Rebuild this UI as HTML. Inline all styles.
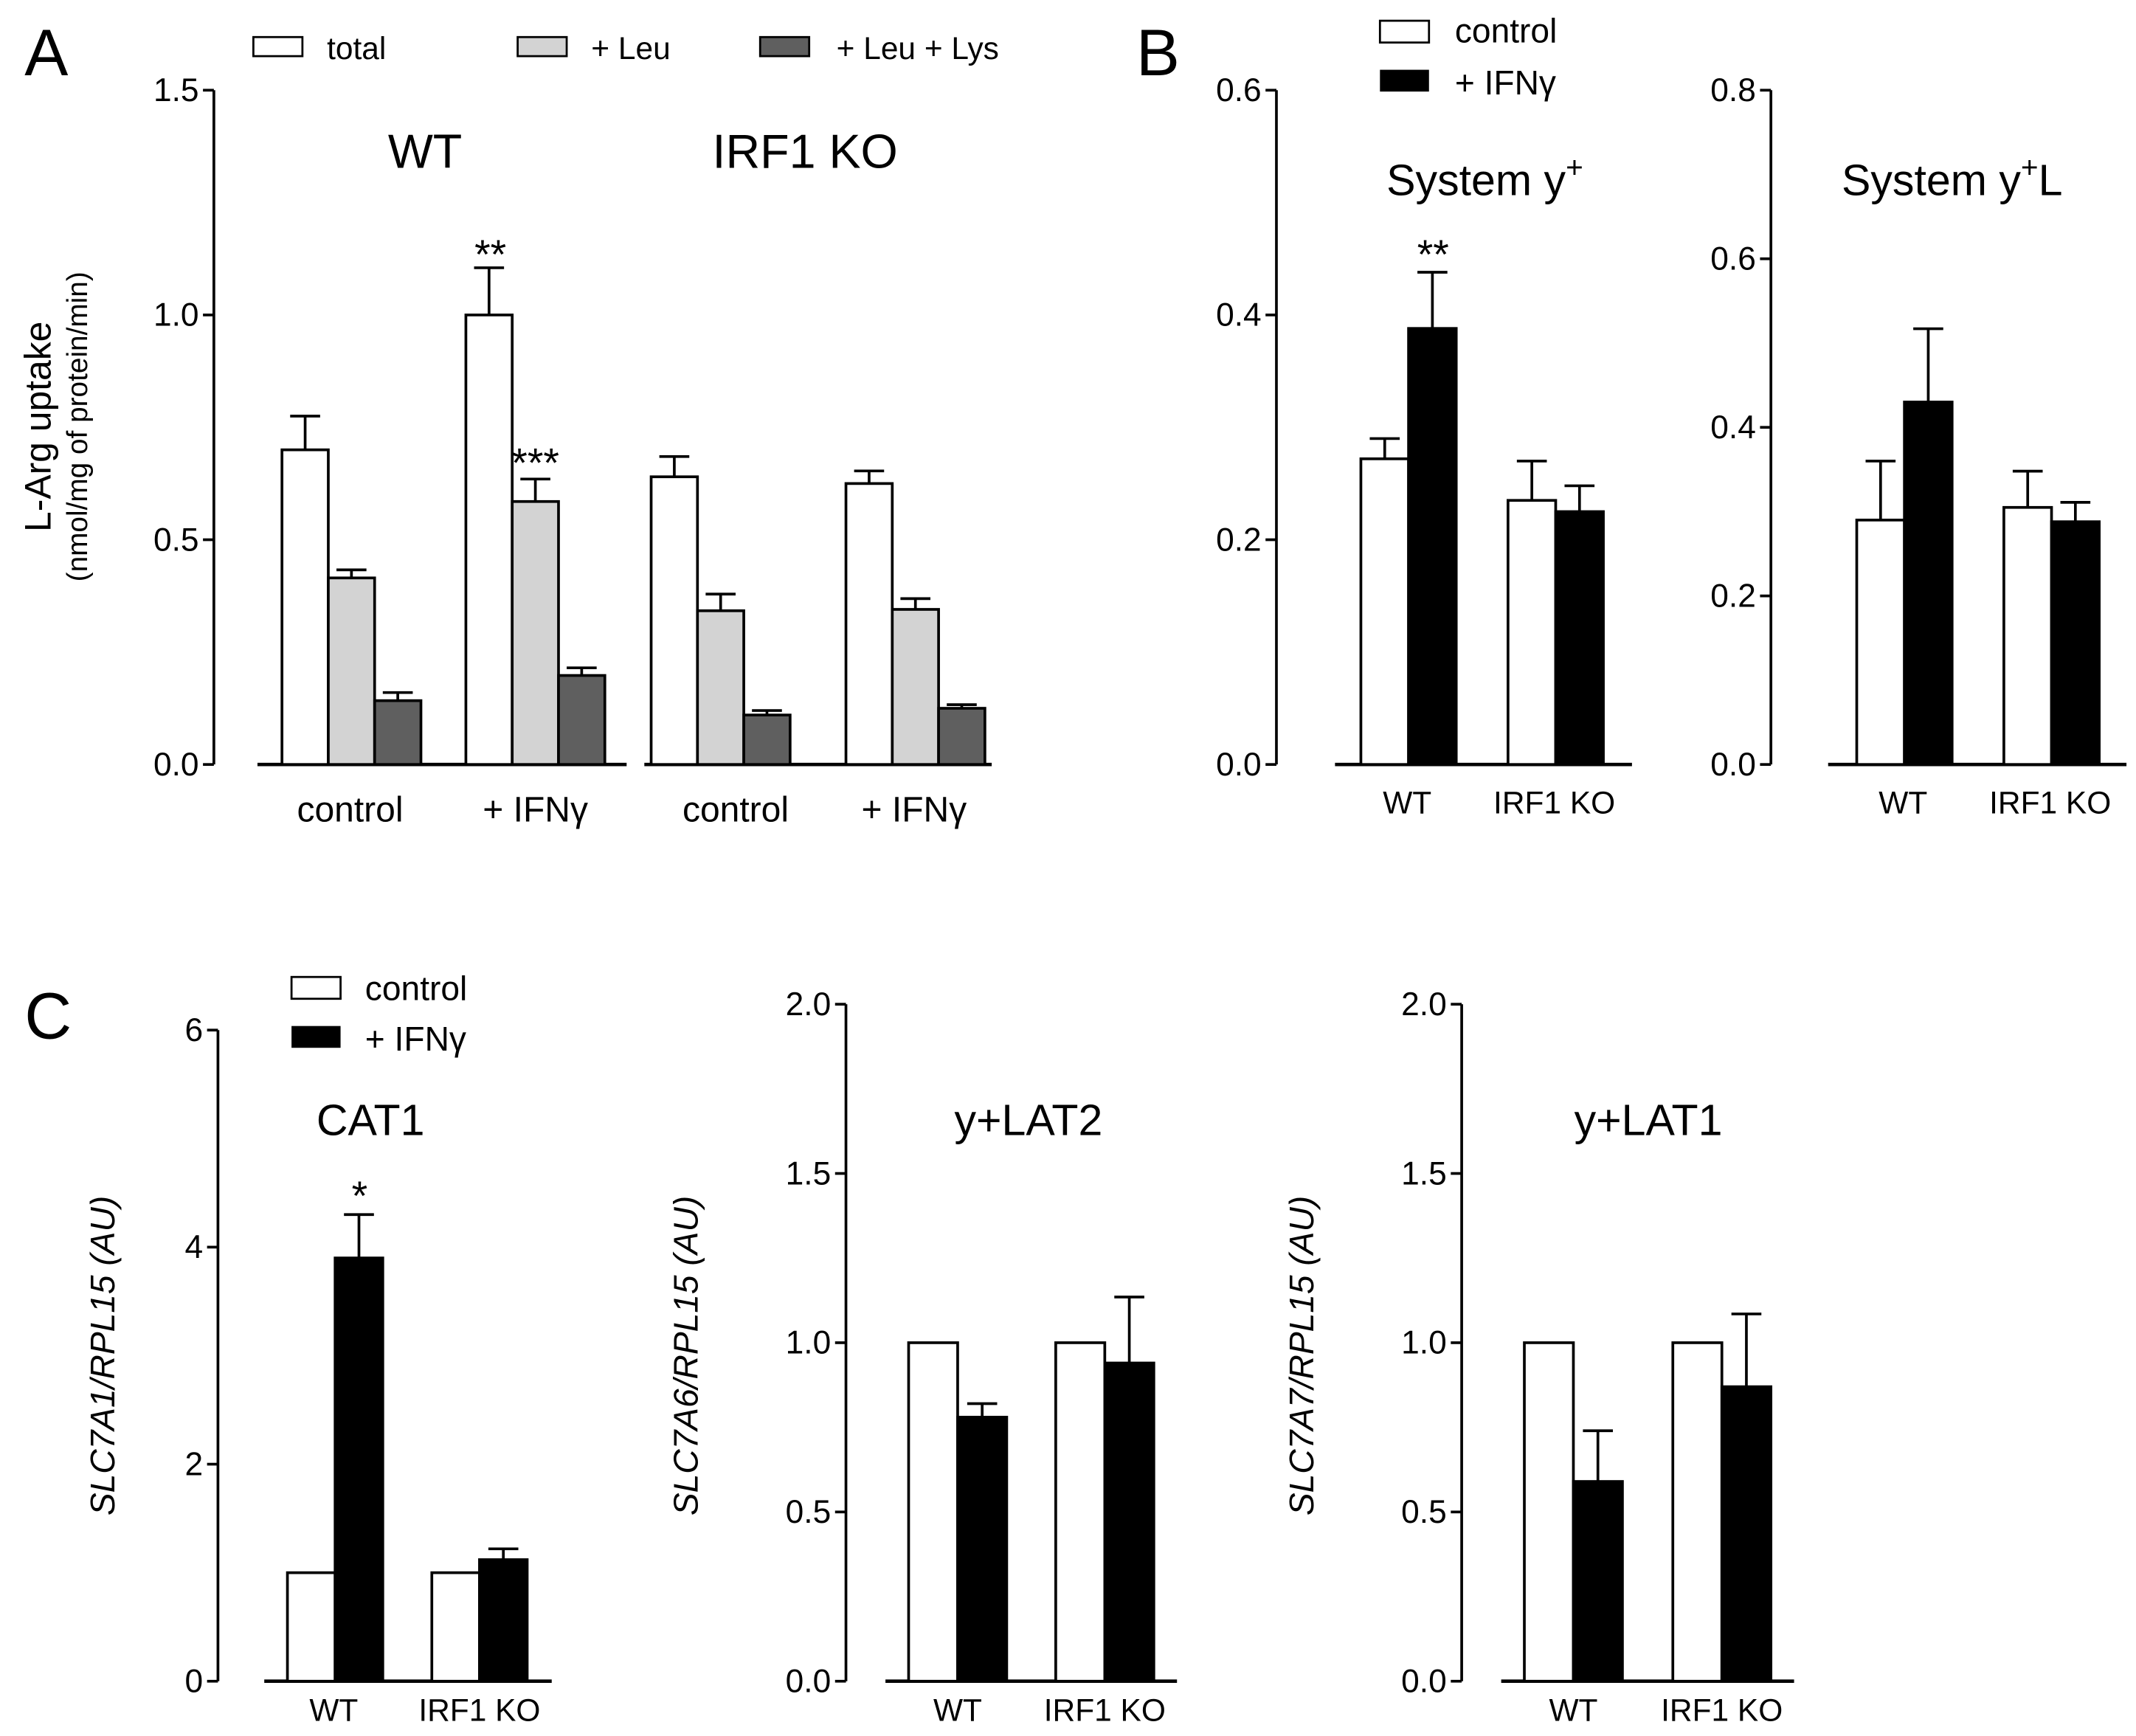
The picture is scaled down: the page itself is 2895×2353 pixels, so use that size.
<!DOCTYPE html>
<html><head><meta charset="utf-8"><style>html,body{margin:0;padding:0;background:#fff}svg{display:block}text{font-family:"Liberation Sans",Arial,sans-serif;fill:#000}</style></head>
<body>
<svg id="fig" width="2895" height="2353" viewBox="0 0 1568 1274" xmlns="http://www.w3.org/2000/svg">
<rect width="1568" height="1274" fill="#fff"/>
<g id="static" stroke-width="0">
<text x="18" y="55" font-size="48">A</text>
<text x="834" y="55" font-size="48">B</text>
<text x="18" y="762" font-size="48">C</text>
<g>
<rect x="186" y="27" width="36" height="14" fill="#fff" stroke="#000" stroke-width="1.5"/>
<text x="240" y="43" font-size="23">total</text>
<rect x="380" y="27" width="36" height="14" fill="#d3d3d3" stroke="#000" stroke-width="1.5"/>
<text x="434" y="43" font-size="23">+ Leu</text>
<rect x="558" y="27" width="36" height="14" fill="#5f5f5f" stroke="#000" stroke-width="1.5"/>
<text x="614" y="43" font-size="23">+ Leu + Lys</text>
</g>
<g>
<rect x="1013" y="15" width="36" height="16" fill="#fff" stroke="#000" stroke-width="1.5"/>
<text x="1068" y="31" font-size="25">control</text>
<rect x="1013" y="51" width="36" height="16" fill="#000"/>
<text x="1068" y="69" font-size="25">+ IFNγ</text>
</g>
<g>
<rect x="214" y="717" width="36" height="16" fill="#fff" stroke="#000" stroke-width="1.5"/>
<text x="268" y="734" font-size="25">control</text>
<rect x="214" y="753" width="36" height="16" fill="#000"/>
<text x="268" y="771" font-size="25">+ IFNγ</text>
</g>
<text x="312" y="123" font-size="35" text-anchor="middle">WT</text>
<text x="591" y="123" font-size="35" text-anchor="middle">IRF1 KO</text>
<text x="1090" y="143" font-size="32" text-anchor="middle">System y<tspan dy="-13" font-size="22">+</tspan></text>
<text x="1433" y="143" font-size="32" text-anchor="middle">System y<tspan dy="-13" font-size="22">+</tspan><tspan dy="13">L</tspan></text>
<text x="272" y="833" font-size="32" text-anchor="middle">CAT1</text>
<text x="755" y="833" font-size="32" text-anchor="middle">y+LAT2</text>
<text x="1210" y="833" font-size="32" text-anchor="middle">y+LAT1</text>
<text transform="translate(37,313) rotate(-90)" font-size="27" text-anchor="middle">L-Arg uptake</text>
<text transform="translate(64,313) rotate(-90)" font-size="21" text-anchor="middle">(nmol/mg of protein/min)</text>
<text transform="translate(84,995) rotate(-90)" font-size="25" font-style="italic" text-anchor="middle">SLC7A1/RPL15 (AU)</text>
<text transform="translate(512,995) rotate(-90)" font-size="25" font-style="italic" text-anchor="middle">SLC7A6/RPL15 (AU)</text>
<text transform="translate(964,995) rotate(-90)" font-size="25" font-style="italic" text-anchor="middle">SLC7A7/RPL15 (AU)</text>
</g>
<g id="charts"></g>
</svg>
<script>
// Panel A data
const aCategories = ["WT control","WT + IFNγ","KO control","KO + IFNγ"];
const aTotal = [0.70, 1.00, 0.64, 0.625];
const aTotalErr = [0.075, 0.105, 0.045, 0.028];
const aLeu = [0.415, 0.585, 0.342, 0.345];
const aLeuErr = [0.018, 0.05, 0.037, 0.024];
const aLeuLys = [0.142, 0.198, 0.11, 0.125];
const aLeuLysErr = [0.018, 0.017, 0.01, 0.008];
const aTicks = ["0.0","0.5","1.0","1.5"];
// Panel B data
const bGroups = ["WT","IRF1 KO"];
const b1Control = [0.272, 0.235];
const b1ControlErr = [0.018, 0.035];
const b1Ifn = [0.388, 0.225];
const b1IfnErr = [0.05, 0.023];
const b1Ticks = ["0.0","0.2","0.4","0.6"];
const b2Control = [0.29, 0.305];
const b2ControlErr = [0.07, 0.043];
const b2Ifn = [0.43, 0.288];
const b2IfnErr = [0.087, 0.023];
const b2Ticks = ["0.0","0.2","0.4","0.6","0.8"];
// Panel C data
const c1Control = [1, 1];
const c1Ifn = [3.9, 1.12];
const c1IfnErr = [0.4, 0.1];
const c1Ticks = ["0","2","4","6"];
const c2Control = [1, 1];
const c2Ifn = [0.78, 0.94];
const c2IfnErr = [0.04, 0.195];
const c2Ticks = ["0.0","0.5","1.0","1.5","2.0"];
const c3Control = [1, 1];
const c3Ifn = [0.59, 0.87];
const c3IfnErr = [0.15, 0.215];
const c3Ticks = ["0.0","0.5","1.0","1.5","2.0"];

const NS="http://www.w3.org/2000/svg";
const root=document.getElementById('charts');
function mk(tag,attrs,parent){const e=document.createElementNS(NS,tag);for(const k in attrs)e.setAttribute(k,attrs[k]);(parent||root).appendChild(e);return e;}

function panel(o){
  const g=mk('g',{});
  
  
  const y=v=>o.y0-(v/o.max)*(o.y0-o.y1);
  const ax=mk('line',{x1:o.ax,x2:o.ax,y1:o.y1,y2:o.y0,stroke:'#000','stroke-width':2},g);
  
  
  o.ticks.forEach(t=>{
    const v=parseFloat(t), ty=y(v);
    const tk=mk('line',{x1:o.ax-8,x2:o.ax,y1:ty,y2:ty,stroke:'#000','stroke-width':2},g);
    
    
    const tl=mk('text',{x:o.ax-11,y:ty+8,'font-size':24,'text-anchor':'end'},g);
    tl.textContent=t;
    
    
  });
  o.segs.forEach(s=>{
    const xl=mk('line',{x1:s[0],x2:s[1],y1:o.y0,y2:o.y0,stroke:'#000','stroke-width':2.5},g);
    
    
  });
  o.series.forEach(se=>{
    se.vals.forEach((v,i)=>{
      const x=se.xs[i], top=y(v);
      const r=mk('rect',{x:x,y:top,width:o.bw,height:o.y0-top,fill:se.fill,stroke:'#000','stroke-width':2},g);
      
      
      if(se.err&&se.err[i]){
        const ey=y(v+se.err[i]), cx=x+o.bw/2;
        const e1=mk('line',{x1:cx,x2:cx,y1:top,y2:ey,stroke:'#000','stroke-width':2},g);
        
        
        const e2=mk('line',{x1:cx-11,x2:cx+11,y1:ey,y2:ey,stroke:'#000','stroke-width':2},g);
        
        
      }
    });
  });
  o.labels.forEach(l=>{
    const t=mk('text',{x:l[1],y:l[2],'font-size':l[3]||23,'text-anchor':'middle'},g);
    t.textContent=l[0];
    
    
  });
  (o.stars||[]).forEach(s=>{
    const t=mk('text',{x:s[1],y:s[2],'font-size':30,'text-anchor':'middle'},g);
    t.textContent=s[0];
    
    
  });
}

panel({name:'panel-a-chart',ax:157,y0:561,y1:66,max:1.5,ticks:aTicks,bw:34,segs:[[189,460],[473,728]],
  series:[{vals:aTotal,err:aTotalErr,xs:[207,342,478,621],fill:'#fff'},
          {vals:aLeu,err:aLeuErr,xs:[241,376,512,655],fill:'#d3d3d3'},
          {vals:aLeuLys,err:aLeuLysErr,xs:[275,410,546,689],fill:'#5f5f5f'}],
  labels:[["control",257,603,26],["+ IFNγ",393,603,26],["control",540,603,26],["+ IFNγ",671,603,26]],
  stars:[["**",360,197],["***",393,350]]});
panel({name:'panel-b-system-y-plus',ax:937,y0:561,y1:66,max:0.6,ticks:b1Ticks,bw:35,segs:[[980,1198]],
  series:[{vals:b1Control,err:b1ControlErr,xs:[999,1107],fill:'#fff'},{vals:b1Ifn,err:b1IfnErr,xs:[1034,1142],fill:'#000'}],
  labels:[["WT",1033,597],["IRF1 KO",1141,597]],stars:[["**",1052,197]]});
panel({name:'panel-b-system-y-plus-l',ax:1300,y0:561,y1:66,max:0.8,ticks:b2Ticks,bw:35,segs:[[1342,1561]],
  series:[{vals:b2Control,err:b2ControlErr,xs:[1363,1471],fill:'#fff'},{vals:b2Ifn,err:b2IfnErr,xs:[1398,1506],fill:'#000'}],
  labels:[["WT",1397,597],["IRF1 KO",1505,597]]});
panel({name:'panel-c-cat1',ax:160,y0:1234,y1:756,max:6,ticks:c1Ticks,bw:35,segs:[[194,405]],
  series:[{vals:c1Control,xs:[211,317],fill:'#fff'},{vals:c1Ifn,err:c1IfnErr,xs:[246,352],fill:'#000'}],
  labels:[["WT",245,1263],["IRF1 KO",352,1263]],stars:[["*",264,888]]});
panel({name:'panel-c-ylat2',ax:621,y0:1234,y1:737,max:2,ticks:c2Ticks,bw:36,segs:[[650,864]],
  series:[{vals:c2Control,xs:[667,775],fill:'#fff'},{vals:c2Ifn,err:c2IfnErr,xs:[703,811],fill:'#000'}],
  labels:[["WT",703,1263],["IRF1 KO",811,1263]]});
panel({name:'panel-c-ylat1',ax:1073,y0:1234,y1:737,max:2,ticks:c3Ticks,bw:36,segs:[[1102,1317]],
  series:[{vals:c3Control,xs:[1119,1228],fill:'#fff'},{vals:c3Ifn,err:c3IfnErr,xs:[1155,1264],fill:'#000'}],
  labels:[["WT",1155,1263],["IRF1 KO",1264,1263]]});
</script>
</body></html>
